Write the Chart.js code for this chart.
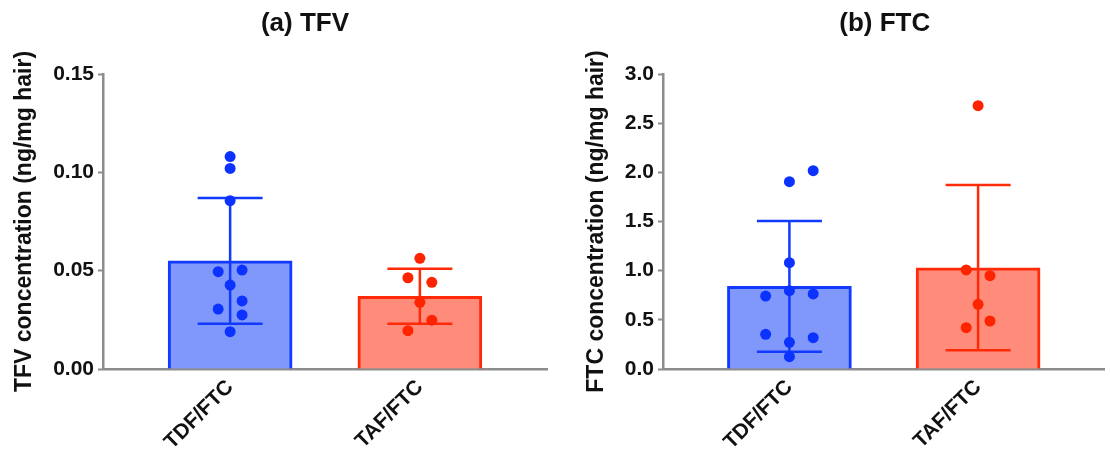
<!DOCTYPE html>
<html>
<head>
<meta charset="utf-8">
<script src="https://cdn.jsdelivr.net/npm/chart.js@4.4.1/dist/chart.umd.min.js"></script>
<style>
  html, body { margin: 0; padding: 0; background: #ffffff; }
  #wrap { position: relative; width: 1110px; height: 458px; overflow: hidden; }
  .panel { position: absolute; top: 0; }
  #panelA { left: 0; }
  #panelB { left: 560px; }
</style>
</head>
<body>
<div id="wrap">
  <div class="panel" id="panelA"><canvas id="chartA" width="560" height="458"></canvas></div>
  <div class="panel" id="panelB"><canvas id="chartB" width="550" height="458"></canvas></div>
</div>
<script>
// Treatment groups on the x axis
const regimens = ['TDF/FTC', 'TAF/FTC'];

// (a) TFV hair concentrations, ng/mg hair
const tfvMean = [0.055, 0.037];
const tfvSD = [0.032, 0.014];
const tfvTdfValues = [0.108, 0.102, 0.0856, 0.0495, 0.0503, 0.0427, 0.0305, 0.0346, 0.0275, 0.019];
const tfvTdfLanes  = [0, 0, 0, -1, 1, 0, -1, 1, 1, 0];
const tfvTafValues = [0.0563, 0.0464, 0.0441, 0.0339, 0.0248, 0.0195];
const tfvTafLanes  = [0, -1, 1, 0, 1, -1];
const tfvTicks = [0, 0.05, 0.10, 0.15];

// (b) FTC hair concentrations, ng/mg hair
const ftcMean = [0.84, 1.03];
const ftcSD = [0.665, 0.84];
const ftcTdfValues = [2.017, 1.905, 1.081, 0.796, 0.742, 0.763, 0.353, 0.319, 0.271, 0.125];
const ftcTdfLanes  = [2, 0, 0, 0, -2, 2, -2, 2, 0, 0];
const ftcTafValues = [2.678, 1.007, 0.949, 0.658, 0.488, 0.42];
const ftcTafLanes  = [0, -1, 1, 0, 1, -1];
const ftcTicks = [0, 0.5, 1.0, 1.5, 2.0, 2.5, 3.0];

const FONT = '"Liberation Sans", Arial, Helvetica, sans-serif';
const TEXT = '#111111';
const AXIS = '#8c8c8c';
const BLUE_LINE = 'rgb(18, 58, 255)';
const BLUE_FILL = 'rgb(128, 152, 252)';
const BLUE_DOT = 'rgb(12, 50, 255)';
const RED_LINE = 'rgb(255, 42, 8)';
const RED_FILL = 'rgb(255, 140, 122)';
const RED_DOT = 'rgb(255, 36, 0)';
const LANE_STEP = 0.063;

// Mean ± SD whiskers, drawn right after the bars so the dots sit on top
const errorBars = {
  id: 'errorBars',
  afterDatasetDraw(chart, args, opts) {
    if (args.index !== 0) return;
    const ctx = chart.ctx;
    const xs = chart.scales.x, ys = chart.scales.y;
    ctx.save();
    ctx.lineWidth = opts.lineWidth;
    ctx.lineCap = 'butt';
    opts.mean.forEach((m, i) => {
      const cx = xs.getPixelForValue(i);
      const top = ys.getPixelForValue(m + opts.sd[i]);
      const bot = ys.getPixelForValue(m - opts.sd[i]);
      const half = opts.capWidth / 2;
      ctx.strokeStyle = opts.colors[i];
      ctx.beginPath();
      ctx.moveTo(cx, top); ctx.lineTo(cx, bot);
      ctx.moveTo(cx - half, top); ctx.lineTo(cx + half, top);
      ctx.moveTo(cx - half, bot); ctx.lineTo(cx + half, bot);
      ctx.stroke();
    });
    ctx.restore();
  }
};

// Panel heading such as "(a) TFV"
const panelTitle = {
  id: 'panelTitle',
  afterDraw(chart, args, opts) {
    const ctx = chart.ctx;
    const ca = chart.chartArea;
    ctx.save();
    ctx.font = 'bold 26px ' + FONT;
    ctx.fillStyle = TEXT;
    ctx.textAlign = 'center';
    ctx.textBaseline = 'middle';
    ctx.fillText(opts.text, (ca.left + ca.right) / 2 + opts.shift, opts.y);
    ctx.restore();
  }
};

function dots(values, lanes, group) {
  return values.map((v, k) => ({ x: group + lanes[k] * LANE_STEP, y: v }));
}

function makePanel(canvasId, cfg) {
  return new Chart(document.getElementById(canvasId), {
    type: 'bar',
    data: {
      datasets: [
        {
          type: 'bar',
          data: regimens.map((_, i) => ({ x: i, y: cfg.mean[i] })),
          backgroundColor: [BLUE_FILL, RED_FILL],
          borderColor: [BLUE_LINE, RED_LINE],
          borderWidth: 3,
          borderSkipped: 'start',
          barThickness: 124,
          order: 2
        },
        {
          type: 'scatter',
          data: dots(cfg.tdf, cfg.tdfLanes, 0),
          backgroundColor: BLUE_DOT,
          borderWidth: 0,
          pointRadius: 5.5,
          order: 1
        },
        {
          type: 'scatter',
          data: dots(cfg.taf, cfg.tafLanes, 1),
          backgroundColor: RED_DOT,
          borderWidth: 0,
          pointRadius: 5.5,
          order: 1
        }
      ]
    },
    options: {
      responsive: false,
      animation: false,
      events: [],
      layout: { padding: { top: 74, right: cfg.padRight, left: 0, bottom: 0 } },
      plugins: {
        legend: { display: false },
        tooltip: { enabled: false },
        title: { display: false },
        errorBars: { mean: cfg.mean, sd: cfg.sd, colors: [BLUE_LINE, RED_LINE], capWidth: 65, lineWidth: 2.5 },
        panelTitle: { text: cfg.title, shift: cfg.titleShift, y: 24 }
      },
      scales: {
        x: {
          type: 'linear',
          offset: false,
          min: -0.67,
          max: 1.67,
          afterBuildTicks(s) { s.ticks = regimens.map((_, i) => ({ value: i })); },
          afterFit(s) { s.height = 89; },
          ticks: {
            callback: (v) => regimens[Math.round(v)],
            minRotation: 45,
            maxRotation: 45,
            autoSkip: false,
            padding: 6,
            color: TEXT,
            font: { family: FONT, size: 21, weight: 'bold' }
          },
          grid: { drawOnChartArea: false, drawTicks: false },
          border: { color: AXIS, width: 2.5 }
        },
        y: {
          min: 0,
          max: cfg.ticks[cfg.ticks.length - 1],
          afterBuildTicks(s) { s.ticks = cfg.ticks.map(v => ({ value: v })); },
          afterFit(s) { s.width = 103; },
          ticks: {
            callback: (v) => v.toFixed(cfg.decimals),
            padding: 4,
            color: TEXT,
            font: { family: FONT, size: 21, weight: 'bold' }
          },
          grid: { drawOnChartArea: false, tickLength: 5, tickColor: AXIS, tickWidth: 2 },
          border: { color: AXIS, width: 2.5 },
          title: {
            display: true,
            text: cfg.yTitle,
            color: TEXT,
            padding: { top: cfg.yTitlePad, bottom: 0 },
            font: { family: FONT, size: 23, weight: 'bold' }
          }
        }
      }
    },
    plugins: [errorBars, panelTitle]
  });
}

makePanel('chartA', {
  title: '(a) TFV', titleShift: -20,
  yTitle: 'TFV concentration (ng/mg hair)', yTitlePad: 11,
  mean: tfvMean, sd: tfvSD,
  tdf: tfvTdfValues, tdfLanes: tfvTdfLanes,
  taf: tfvTafValues, tafLanes: tfvTafLanes,
  ticks: tfvTicks, decimals: 2, padRight: 13
});

makePanel('chartB', {
  title: '(b) FTC', titleShift: 1,
  yTitle: 'FTC concentration (ng/mg hair)', yTitlePad: 23,
  mean: ftcMean, sd: ftcSD,
  tdf: ftcTdfValues, tdfLanes: ftcTdfLanes,
  taf: ftcTafValues, tafLanes: ftcTafLanes,
  ticks: ftcTicks, decimals: 1, padRight: 3
});
</script>
</body>
</html>
